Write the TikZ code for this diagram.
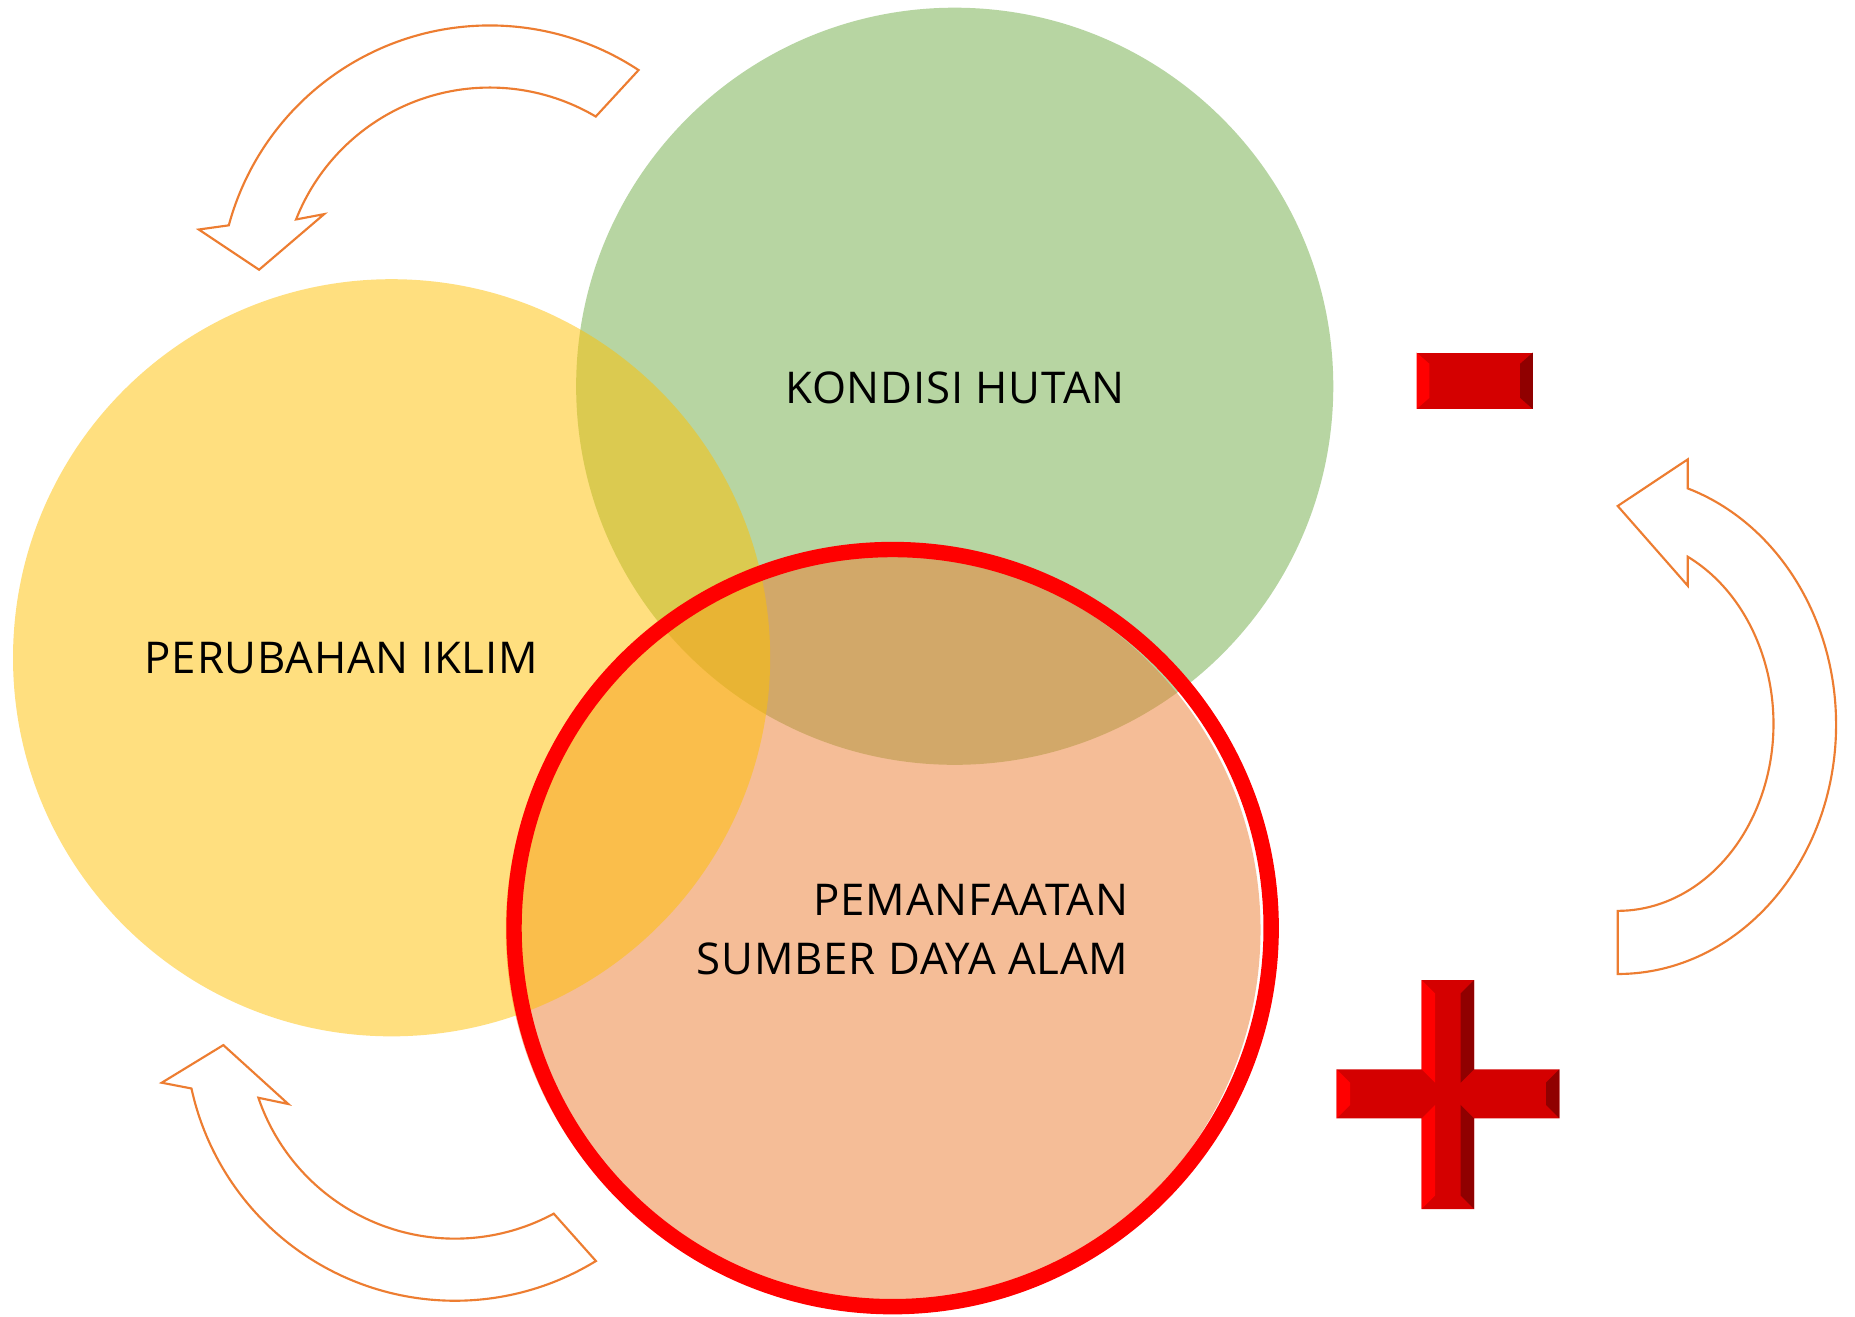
\documentclass[tikz,border=0pt]{standalone}
\usepackage{fontspec}
\setmainfont{Open Sans}[LetterSpace=1.8]
\definecolor{cgreen}{HTML}{70AD47}
\definecolor{corange}{HTML}{ED7D31}
\definecolor{cyellow}{HTML}{FFC000}
\definecolor{redmain}{HTML}{D40000}
\definecolor{redlight}{HTML}{FF0000}
\definecolor{reddark}{HTML}{900000}
\begin{document}
\begin{tikzpicture}[x=1pt,y=1pt,
  venn/.style={fill opacity=0.5},
  arrowshape/.style={draw=corange, line width=1.8, fill=white, line join=miter},
  lbl/.style={inner sep=0pt, text=black, font=\fontsize{37}{49.5}\selectfont}]
\useasboundingbox (0,0) rectangle (1568,-1112.4);
\fill[white] (0,0) rectangle (1568,-1112.4);
% Venn circles
\fill[cgreen, venn] (807,-326.5) circle[radius=320];
\fill[corange, venn] (746.5,-786) circle[radius=319];
\fill[cyellow, venn] (331,-556) circle[radius=320];
\draw[red, line width=13] (754.5,-784.5) circle[radius=320];
% curved arrows
\draw[arrowshape] ([shift={(414,-250)}]56.6:228.5) arc[start angle=56.6,end angle=164.9,radius=228.5]
  -- (168,-194) -- (219,-228) -- (274,-181)
  -- ([shift={(414,-250)}]158.5:176) arc[start angle=158.5,end angle=59.4,radius=176] -- cycle;
\draw[arrowshape] ([shift={(384.6,-871.5)}]-58.5:228) arc[start angle=-58.5,end angle=-167.7,radius=228]
  -- (136.7,-915.2) -- (188.8,-883.4) -- (243.7,-933.2)
  -- ([shift={(384.6,-871.5)}]-161.25:175.5) arc[start angle=-161.25,end angle=-61.6,radius=175.5] -- cycle;
\draw[arrowshape] (1367.4,-823.3) arc[start angle=-90,end angle=71.3,x radius=184.6,y radius=210.8]
  -- (1426.6,-388.3) -- (1367.4,-427.7) -- (1426.6,-495.1)
  -- (1426.6,-470.6) arc[start angle=63.3,end angle=-90,x radius=131.6,y radius=158.1] -- cycle;
% minus sign
\fill[redmain] (1197.5,-298.1) rectangle (1295.6,-345.7);
\fill[redlight] (1197.5,-298.1) -- (1208.2,-307.5) -- (1208.2,-336.3) -- (1197.5,-345.7) -- cycle;
\fill[reddark] (1295.6,-298.1) -- (1284.9,-307.5) -- (1284.9,-336.3) -- (1295.6,-345.7) -- cycle;
% plus sign
\fill[redmain] (1201.7,-828.4) -- (1246.0,-828.4) -- (1246.0,-903.9) -- (1318.1,-903.9)
  -- (1318.1,-945.3) -- (1246.0,-945.3) -- (1246.0,-1022) -- (1201.7,-1022)
  -- (1201.7,-945.3) -- (1129.9,-945.3) -- (1129.9,-903.9) -- (1201.7,-903.9) -- cycle;
\fill[redlight] (1201.7,-828.4) -- (1213.0,-839.7) -- (1213.0,-915.2) -- (1201.7,-903.9) -- cycle;
\fill[redlight] (1201.7,-945.3) -- (1213.0,-934.0) -- (1213.0,-1010.7) -- (1201.7,-1022) -- cycle;
\fill[redlight] (1129.9,-903.9) -- (1141.2,-915.2) -- (1141.2,-934.0) -- (1129.9,-945.3) -- cycle;
\fill[reddark] (1246.0,-828.4) -- (1234.7,-839.7) -- (1234.7,-915.2) -- (1246.0,-903.9) -- cycle;
\fill[reddark] (1246.0,-945.3) -- (1234.7,-934.0) -- (1234.7,-1010.7) -- (1246.0,-1022) -- cycle;
\fill[reddark] (1318.1,-903.9) -- (1306.8,-915.2) -- (1306.8,-934.0) -- (1318.1,-945.3) -- cycle;
% labels
\node[lbl] (kh) at (807.3,-327.6) {KONDISI HUTAN};
\node[lbl] (pi) at (288.5,-556) {PERUBAHAN IKLIM};
\node[lbl, anchor=east, align=right] (psda) at (954,-785.6) {PEMANFAATAN\\SUMBER DAYA ALAM};
\end{tikzpicture}
\end{document}
